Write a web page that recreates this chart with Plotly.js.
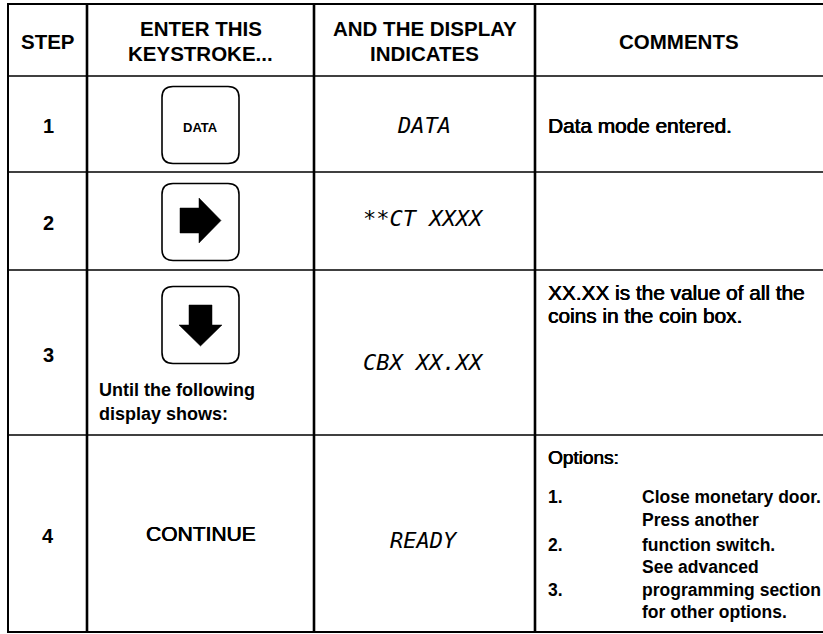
<!DOCTYPE html>
<html>
<head>
<meta charset="utf-8">
<script src="https://cdn.plot.ly/plotly-3.0.1.min.js"></script>
<style>html,body{margin:0;padding:0;background:#fff;}#chart{width:823px;height:634px;}</style>
</head>
<body>
<div id="chart"></div>
<script>
// ---- table content ----
const headers = [['STEP'], ['ENTER THIS', 'KEYSTROKE...'], ['AND THE DISPLAY', 'INDICATES'], ['COMMENTS']];
const steps = ['1', '2', '3', '4'];
const keystrokes = ['DATA', 'RIGHT', 'DOWN', 'CONTINUE'];
const keyNote = ['Until the following', 'display shows:'];
const displays = ['DATA', '**CT XXXX', 'CBX XX.XX', 'READY'];
const comments = [['Data mode entered.'], [], ['XX.XX is the value of all the', 'coins in the coin box.'], ['Options:']];
const optionNums = ['1.', '2.', '3.'];
const optionLines = [['Close monetary door.'], ['Press another', 'function switch.'], ['See advanced', 'programming section', 'for other options.']];

// ---- geometry (page layout) ----
const colEdges = [8, 87, 314, 535, 823];
const rowEdges = [4, 76, 172, 270, 435, 632];
const FONT = 'Liberation Sans, Arial, Helvetica, sans-serif';
const NARROW = 'Liberation Sans Narrow, Arial Narrow, Liberation Sans, sans-serif';
const MONO = 'DejaVu Sans Mono, monospace';
const MEDIUM = '0.45px 0 0 #000, -0.2px 0 0 #000';

const shapes = [];
const annotations = [];

function line(x0, y0, x1, y1, w) {
  shapes.push({type: 'line', xref: 'x', yref: 'y', x0, y0, x1, y1, line: {color: '#000', width: w}, layer: 'above'});
}
// horizontal rules
rowEdges.forEach((y, i) => line(colEdges[0] - 1, y, 823, y, (i === 0 || i === rowEdges.length - 1) ? 2 : 1.6));
// vertical rules
colEdges.slice(0, 4).forEach((x, i) => line(x, rowEdges[0], x, rowEdges[rowEdges.length - 1], i === 0 ? 2 : 2.6));

function colCenter(c) { return (colEdges[c] + colEdges[c + 1]) / 2; }
function rowCenter(r) { return (rowEdges[r] + rowEdges[r + 1]) / 2; }

function text(t, x, y, opts) {
  opts = opts || {};
  const font = {family: opts.family || FONT, size: opts.size || 18, color: '#000',
                weight: opts.weight || 'normal', style: opts.style || 'normal'};
  if (opts.shadow) font.shadow = opts.shadow;
  annotations.push({
    xref: 'x', yref: 'y', x, y, text: t, showarrow: false,
    xanchor: opts.xanchor || 'center', yanchor: 'middle', font
  });
}

// headers
headers.forEach((lines, c) => {
  const cy = rowCenter(0) + 1;
  const sp = 25;
  lines.forEach((ln, k) => {
    text(ln, colCenter(c), cy + (k - (lines.length - 1) / 2) * sp, {size: 20.5, weight: 'bold'});
  });
});

// step numbers
steps.forEach((s, r) => text(s, colCenter(0) + 0.5, rowCenter(r + 1) + 2, {size: 20, weight: 'bold'}));

// keys
function roundRect(x0, y0, x1, y1, r) {
  return `M${x0 + r},${y0} L${x1 - r},${y0} Q${x1},${y0} ${x1},${y0 + r} L${x1},${y1 - r} Q${x1},${y1} ${x1 - r},${y1} ` +
         `L${x0 + r},${y1} Q${x0},${y1} ${x0},${y1 - r} L${x0},${y0 + r} Q${x0},${y0} ${x0 + r},${y0} Z`;
}
const keyCY = [125, 222, 325];
const kx = 200.5, kw = 38.5, kh = 38.5;
keystrokes.forEach((k, r) => {
  if (r < 3) {
    const cy = keyCY[r];
    shapes.push({type: 'path', xref: 'x', yref: 'y', path: roundRect(kx - kw, cy - kh, kx + kw, cy + kh, 11),
                 line: {color: '#000', width: 1.6}, fillcolor: 'rgba(0,0,0,0)', layer: 'above'});
    if (k === 'DATA') {
      text(k, kx, cy + 2, {family: NARROW, size: 13, weight: 'bold'});
    } else if (k === 'RIGHT') {
      const c = cy - 1.5;
      const p = `M${kx - 20.5},${c - 12.5} L${kx - 1.5},${c - 12.5} L${kx - 1.5},${c - 22.5} L${kx + 20.5},${c} ` +
                `L${kx - 1.5},${c + 22.5} L${kx - 1.5},${c + 12.5} L${kx - 20.5},${c + 12.5} Z`;
      shapes.push({type: 'path', xref: 'x', yref: 'y', path: p, line: {color: '#000', width: 0.5}, fillcolor: '#000', layer: 'above'});
    } else if (k === 'DOWN') {
      const p = `M${kx - 11.5},${cy - 20} L${kx + 11.5},${cy - 20} L${kx + 11.5},${cy} L${kx + 21.5},${cy} ` +
                `L${kx},${cy + 21} L${kx - 21.5},${cy} L${kx - 11.5},${cy} Z`;
      shapes.push({type: 'path', xref: 'x', yref: 'y', path: p, line: {color: '#000', width: 0.5}, fillcolor: '#000', layer: 'above'});
    }
  } else {
    text(k, colCenter(1), rowCenter(4), {size: 21, shadow: MEDIUM});
  }
});
keyNote.forEach((ln, k) => text(ln, colEdges[1] + 10, 390 + k * 24, {xanchor: 'left', size: 18, weight: 'bold'}));

// display column
const dispY = [125, 218, 362, 540];
displays.forEach((d, r) => text(d, colCenter(2) - 1, dispY[r], {family: MONO, size: 22, style: 'italic'}));

// comments column
const cx = colEdges[3] + 11;
const commentTop = [125, 0, 292, 457];
comments.forEach((lines, r) => {
  lines.forEach((ln, k) => text(ln, cx, commentTop[r] + k * 23,
    {xanchor: 'left', size: r === 3 ? 19 : 20.8, shadow: MEDIUM}));
});
const numY = [497, 545, 590];
const optY = [[497], [520, 545], [567, 590, 612]];
optionNums.forEach((n, i) => {
  text(n, cx, numY[i], {xanchor: 'left', size: 17.5, weight: 'bold'});
  optionLines[i].forEach((ln, k) => text(ln, colEdges[3] + 105, optY[i][k], {xanchor: 'left', size: 17.5, weight: 'bold'}));
});

const layout = {
  width: 823, height: 634,
  margin: {l: 0, r: 0, t: 0, b: 0},
  paper_bgcolor: '#fff', plot_bgcolor: '#fff',
  showlegend: false,
  xaxis: {range: [0, 823], visible: false, fixedrange: true},
  yaxis: {range: [634, 0], visible: false, fixedrange: true},
  shapes, annotations
};
Plotly.newPlot('chart', [{x: [], y: [], type: 'scatter', mode: 'markers', hoverinfo: 'skip'}], layout,
               {staticPlot: true, displayModeBar: false});
</script>
</body>
</html>
